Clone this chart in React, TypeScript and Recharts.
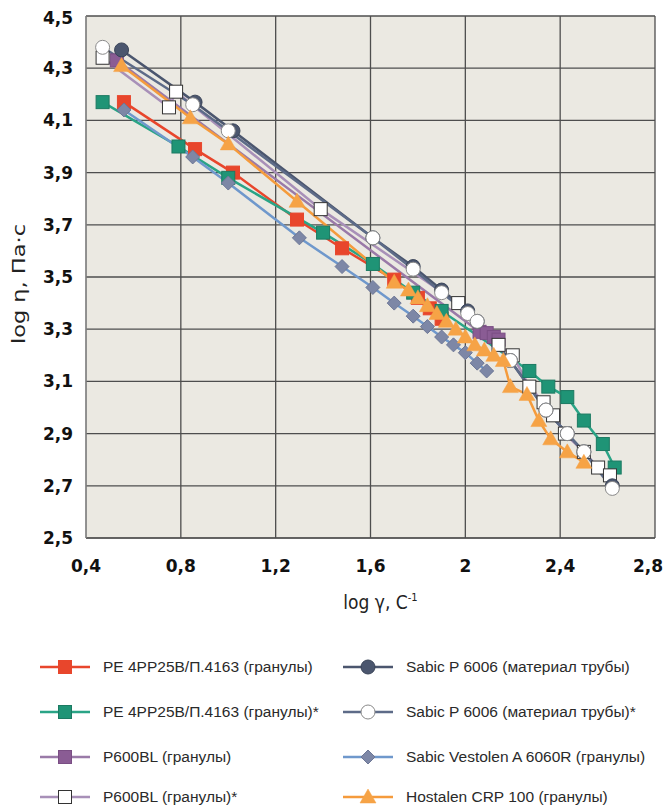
import React from "react";
import { LineChart, Line, XAxis, YAxis, CartesianGrid } from "recharts";

// ---- data (log shear rate, log viscosity) ----
const xTicks = [0.4, 0.8, 1.2, 1.6, 2.0, 2.4, 2.8];
const yTicks = [2.5, 2.7, 2.9, 3.1, 3.3, 3.5, 3.7, 3.9, 4.1, 4.3, 4.5];

const pe4pp = [
  [0.56, 4.17], [0.86, 3.99], [1.02, 3.9], [1.29, 3.72], [1.48, 3.61],
  [1.7, 3.49], [1.8, 3.42], [1.85, 3.38], [1.9, 3.34],
];
const pe4ppStar = [
  [0.47, 4.17], [0.79, 4.0], [1.0, 3.88], [1.4, 3.67], [1.61, 3.55],
  [1.78, 3.44], [1.9, 3.37], [2.27, 3.14], [2.35, 3.08], [2.43, 3.04],
  [2.5, 2.95], [2.58, 2.86], [2.63, 2.77],
];
const p600bl = [
  [0.53, 4.33], [2.06, 3.29], [2.09, 3.285], [2.12, 3.27], [2.14, 3.26],
];
const p600blStar = [
  [0.47, 4.34], [0.75, 4.15], [0.78, 4.21], [1.39, 3.76], [1.97, 3.4],
  [2.14, 3.24], [2.2, 3.2], [2.27, 3.08], [2.33, 3.02], [2.37, 2.97],
  [2.42, 2.9], [2.5, 2.83], [2.56, 2.77], [2.61, 2.74],
];
const sabic = [
  [0.55, 4.37], [0.86, 4.17], [1.02, 4.06], [1.61, 3.65], [1.78, 3.54],
  [1.9, 3.45], [2.01, 3.37], [2.05, 3.33], [2.19, 3.18], [2.34, 2.99],
  [2.43, 2.9], [2.5, 2.83], [2.62, 2.7],
];
const sabicStar = [
  [0.47, 4.38], [0.85, 4.16], [1.0, 4.06], [1.61, 3.65], [1.78, 3.53],
  [1.9, 3.44], [2.01, 3.36], [2.05, 3.33], [2.19, 3.18], [2.34, 2.99],
  [2.43, 2.9], [2.5, 2.83], [2.62, 2.69],
];
const vestolen = [
  [0.56, 4.14], [0.85, 3.96], [1.0, 3.86], [1.3, 3.65], [1.48, 3.54],
  [1.61, 3.46], [1.7, 3.4], [1.78, 3.35], [1.84, 3.31], [1.9, 3.27],
  [1.95, 3.24], [2.0, 3.21], [2.05, 3.17], [2.09, 3.14],
];
const hostalen = [
  [0.55, 4.31], [0.84, 4.11], [1.0, 4.01], [1.29, 3.79], [1.7, 3.48],
  [1.76, 3.45], [1.8, 3.42], [1.84, 3.39], [1.88, 3.36], [1.92, 3.33],
  [1.96, 3.3], [2.0, 3.27], [2.04, 3.24], [2.08, 3.22], [2.12, 3.2],
  [2.16, 3.18], [2.19, 3.08], [2.26, 3.05], [2.31, 2.95], [2.36, 2.88],
  [2.43, 2.83], [2.5, 2.79],
];

const seriesNames = [
  "PE 4PP25B/П.4163 (гранулы)",
  "PE 4PP25B/П.4163 (гранулы)*",
  "P600BL (гранулы)",
  "P600BL (гранулы)*",
  "Sabic P 6006 (материал трубы)",
  "Sabic P 6006 (материал трубы)*",
  "Sabic Vestolen A 6060R (гранулы)",
  "Hostalen CRP 100 (гранулы)",
];

const toRows = (arr: number[][]) => arr.map(([x, y]) => ({ x, y }));

type Shape = "square" | "circle" | "diamond" | "triangle";

const drawMarker = (shape: Shape, cx: number, cy: number, fill: string, stroke: string, key?: any) => {
  if (shape === "square") {
    const s = 13;
    return <rect key={key} x={cx - s / 2} y={cy - s / 2} width={s} height={s} fill={fill} stroke={stroke} strokeWidth={1} />;
  }
  if (shape === "circle") {
    return <circle key={key} cx={cx} cy={cy} r={7} fill={fill} stroke={stroke} strokeWidth={1} />;
  }
  if (shape === "diamond") {
    const s = 7;
    return (
      <polygon key={key} points={`${cx},${cy - s} ${cx + s},${cy} ${cx},${cy + s} ${cx - s},${cy}`} fill={fill} stroke={stroke} strokeWidth={1} />
    );
  }
  const s = 8;
  return (
    <polygon key={key} points={`${cx},${cy - s} ${cx + s},${cy + s * 0.75} ${cx - s},${cy + s * 0.75}`} fill={fill} stroke={stroke} strokeWidth={0.5} />
  );
};

const dotRenderer = (shape: Shape, fill: string, stroke: string) => (props: any) => {
  const { cx, cy, index } = props;
  if (cx == null || cy == null) return <g key={`e-${index}`} />;
  return drawMarker(shape, cx, cy, fill, stroke, `m-${index}`);
};

const series = [
  { name: seriesNames[0], data: pe4pp, line: "#e8462c", fill: "#e8462c", stroke: "#e8462c", shape: "square" as Shape },
  { name: seriesNames[1], data: pe4ppStar, line: "#2aa486", fill: "#1f9476", stroke: "#1c7a62", shape: "square" as Shape },
  { name: seriesNames[2], data: p600bl, line: "#9a7aa8", fill: "#8a5c94", stroke: "#7a4e84", shape: "square" as Shape },
  { name: seriesNames[3], data: p600blStar, line: "#a890b8", fill: "#ffffff", stroke: "#333333", shape: "square" as Shape },
  { name: seriesNames[4], data: sabic, line: "#4b566e", fill: "#4b566e", stroke: "#3a4458", shape: "circle" as Shape },
  { name: seriesNames[5], data: sabicStar, line: "#5d6b88", fill: "#ffffff", stroke: "#8a8a8a", shape: "circle" as Shape },
  { name: seriesNames[6], data: vestolen, line: "#6f98cc", fill: "#7d87a6", stroke: "#6d7796", shape: "diamond" as Shape },
  { name: seriesNames[7], data: hostalen, line: "#f59b3c", fill: "#f6a346", stroke: "#f6a346", shape: "triangle" as Shape },
];

const fmt = (v: number) => (Math.abs(v - 2) < 1e-9 ? "2" : v.toFixed(1).replace(".", ","));

const tickFont = { fontFamily: "DejaVu Sans", fontWeight: 700, fontSize: 17, fill: "#111" };
const labelFont = "'Liberation Sans Narrow', 'DejaVu Sans Condensed', 'Liberation Sans', sans-serif";

const XTick = (props: any) => {
  const { x, y, payload } = props;
  const last = Math.abs(payload.value - 2.8) < 1e-9;
  return (
    <text
      x={last ? x + 8 : x}
      y={y}
      dy="0.71em"
      textAnchor={last ? "end" : "middle"}
      fontFamily="DejaVu Sans"
      fontWeight={700}
      fontSize={17}
      fill="#111"
    >
      {fmt(payload.value)}
    </text>
  );
};

const XLabel = (props: any) => {
  const { viewBox } = props;
  const cx = viewBox.x + viewBox.width / 2 + 10;
  return (
    <text x={cx} y={viewBox.y + 71} textAnchor="middle" fontFamily={labelFont} fontSize={19} fill="#222">
      log γ, C<tspan fontSize={11} dy={-8}>-1</tspan>
    </text>
  );
};

const YLabel = (props: any) => {
  const { viewBox } = props;
  const cy = viewBox.y + viewBox.height / 2 + 7;
  const x = 10;
  return (
    <text
      x={x}
      y={cy}
      textAnchor="middle"
      fontFamily={labelFont}
      fontSize={18}
      fill="#222"
      textLength={120}
      lengthAdjust="spacingAndGlyphs"
      transform={`rotate(-90 ${x} ${cy})`}
      dominantBaseline="central"
    >
      log η, Па·с
    </text>
  );
};

// legend row centres (page y)
const legendRowsY = [667, 712, 757, 797];

export default function App() {
  return (
    <div style={{ position: "relative", width: 656, height: 799 }}>
      <LineChart width={664} height={620} margin={{ top: 8, right: 17, left: 8, bottom: 30 }} style={{ overflow: "visible" }}>
        <CartesianGrid fill="#ebe9e2" stroke="#4e4e4e" strokeWidth={1.3} />
        <XAxis
          type="number"
          dataKey="x"
          domain={[0.4, 2.8]}
          ticks={xTicks}
          tick={<XTick />}
          tickLine={false}
          axisLine={{ stroke: "#4e4e4e" }}
          tickSize={0}
          tickMargin={22}
          height={60}
          allowDataOverflow
          label={<XLabel />}
        />
        <YAxis
          type="number"
          dataKey="y"
          domain={[2.5, 4.5]}
          ticks={yTicks}
          tickFormatter={fmt}
          tick={tickFont}
          tickLine={false}
          axisLine={{ stroke: "#9a9a9a" }}
          tickSize={0}
          tickMargin={13}
          width={70}
          allowDataOverflow
          label={<YLabel />}
        />
        {series.map((s) => (
          <Line
            key={s.name}
            name={s.name}
            data={toRows(s.data)}
            dataKey="y"
            type="linear"
            stroke={s.line}
            strokeWidth={2.5}
            dot={dotRenderer(s.shape, s.fill, s.stroke)}
            activeDot={false}
            isAnimationActive={false}
          />
        ))}
      </LineChart>
      {series.map((s, i) => {
        const col = i < 4 ? 0 : 1;
        const row = i % 4;
        const left = col === 0 ? 32 : 335;
        const top = legendRowsY[row] - 8 - 8;
        return (
          <div key={s.name} style={{ position: "absolute", left, top, height: 16, display: "flex", alignItems: "center", whiteSpace: "nowrap" }}>
            <svg width={50} height={16} style={{ display: "block", overflow: "visible" }}>
              <line x1={0} y1={8} x2={50} y2={8} stroke={s.line} strokeWidth={2.5} />
              {drawMarker(s.shape, 25, 8, s.fill, s.stroke)}
            </svg>
            <span style={{ marginLeft: 13, fontFamily: "'Liberation Sans', Arial, sans-serif", fontSize: 15.5, lineHeight: "16px", color: "#2a2a2a" }}>{s.name}</span>
          </div>
        );
      })}
    </div>
  );
}
